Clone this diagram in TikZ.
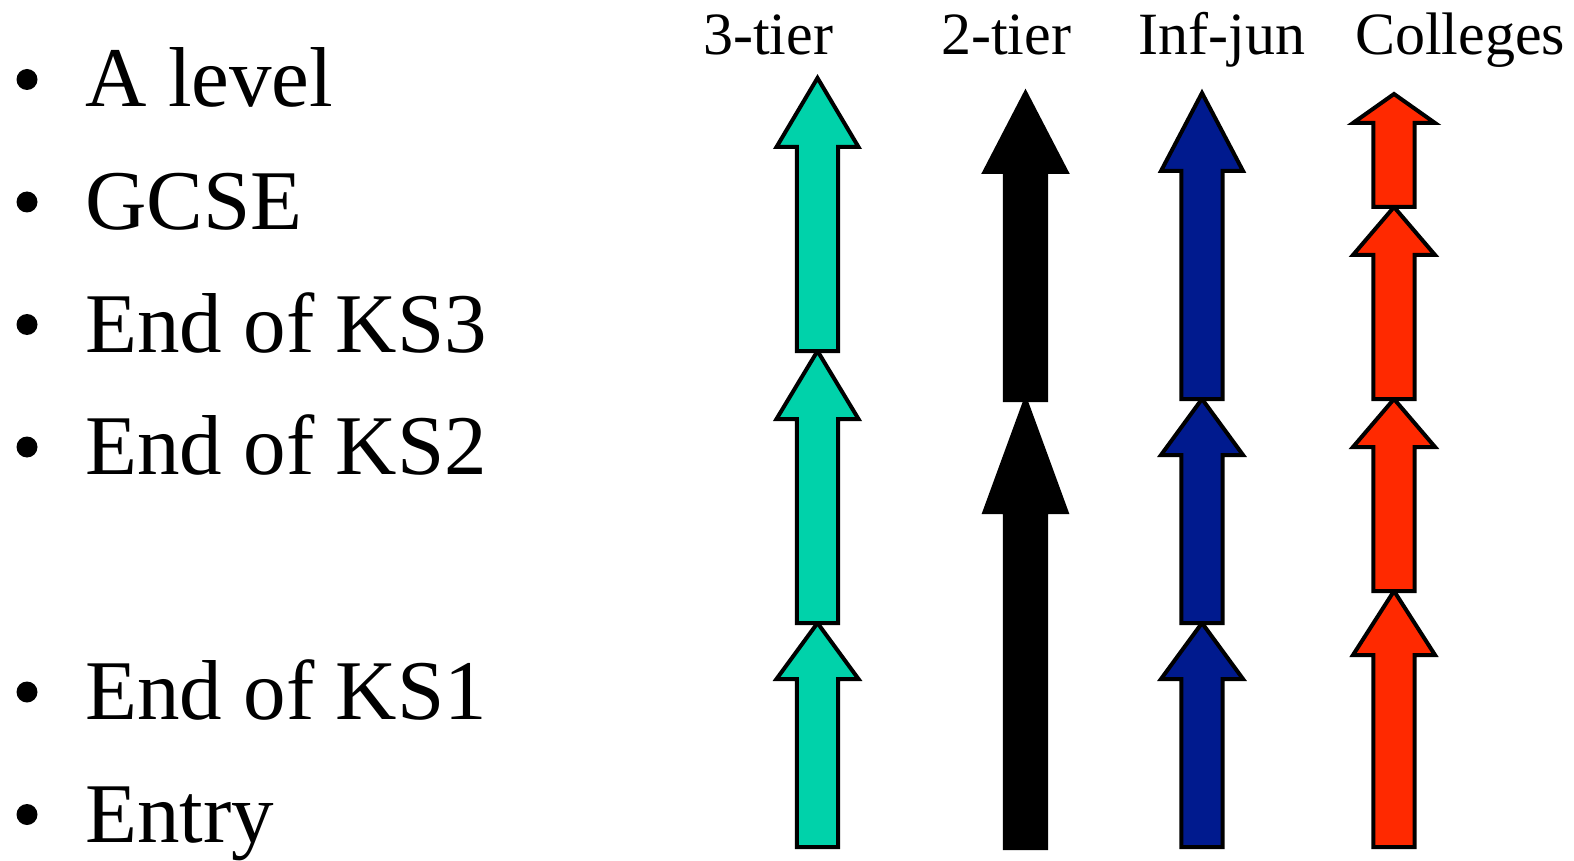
\documentclass[tikz,border=0pt]{standalone}
\usepackage{fontspec}
\setmainfont{Liberation Serif}
\definecolor{cteal}{HTML}{00D2AA}
\definecolor{cblue}{HTML}{001A8E}
\definecolor{cred}{HTML}{FF2900}
% \colarrow{x}{bottom}{tip}{headbase}{fill}{draw}
\newcommand\colarrow[6]{%
  \filldraw[fill=#5,draw=#6,line width=2,line join=miter]
    (#1-20.7,#2) -- (#1-20.7,#4) -- (#1-41,#4) -- (#1,#3) -- (#1+41,#4)
    -- (#1+20.7,#4) -- (#1+20.7,#2) -- cycle;}
\begin{document}
\begin{tikzpicture}[x=0.5pt,y=-0.5pt,
  item/.style={anchor=base west,inner sep=0,font=\fontsize{42.5pt}{50pt}\selectfont},
  head/.style={anchor=base,inner sep=0,font=\fontsize{30pt}{36pt}\selectfont},
  bul/.style={fill=black}]
\useasboundingbox (0,0) rectangle (1574,861);
% left list
\foreach \y/\t/\n in {107/A level/a,229.5/GCSE/b,352/End of KS3/c,474.5/End of KS2/d,719.5/End of KS1/e,842/Entry/f}{
  \fill[bul] (27,\y-27.5) circle (10.5);
  \node[item] (\n) at (85,\y) {\t};
}
% column headings
\node[head] (h1) at (768,55) {3-tier};
\node[head] (h2) at (1006,55) {2-tier};
\node[head] (h3) at (1222,55) {Inf-jun};
\node[head] (h4) at (1460,55) {Colleges};
% 3-tier
\colarrow{817.5}{847}{623}{679}{cteal}{black}
\colarrow{817.5}{623}{351}{419}{cteal}{black}
\colarrow{817.5}{351}{78}{147}{cteal}{black}
% 2-tier
\colarrow{1025.5}{848}{400}{512}{black}{black}
\colarrow{1025.5}{400}{93}{172}{black}{black}
% Inf-jun
\colarrow{1202}{847}{623}{679}{cblue}{black}
\colarrow{1202}{623}{399}{455}{cblue}{black}
\colarrow{1202}{399}{93}{171}{cblue}{black}
% Colleges
\colarrow{1394}{847}{591}{655}{cred}{black}
\colarrow{1394}{591}{399}{447}{cred}{black}
\colarrow{1394}{399}{207}{255}{cred}{black}
\colarrow{1394}{207}{94}{123}{cred}{black}
\end{tikzpicture}
\end{document}
